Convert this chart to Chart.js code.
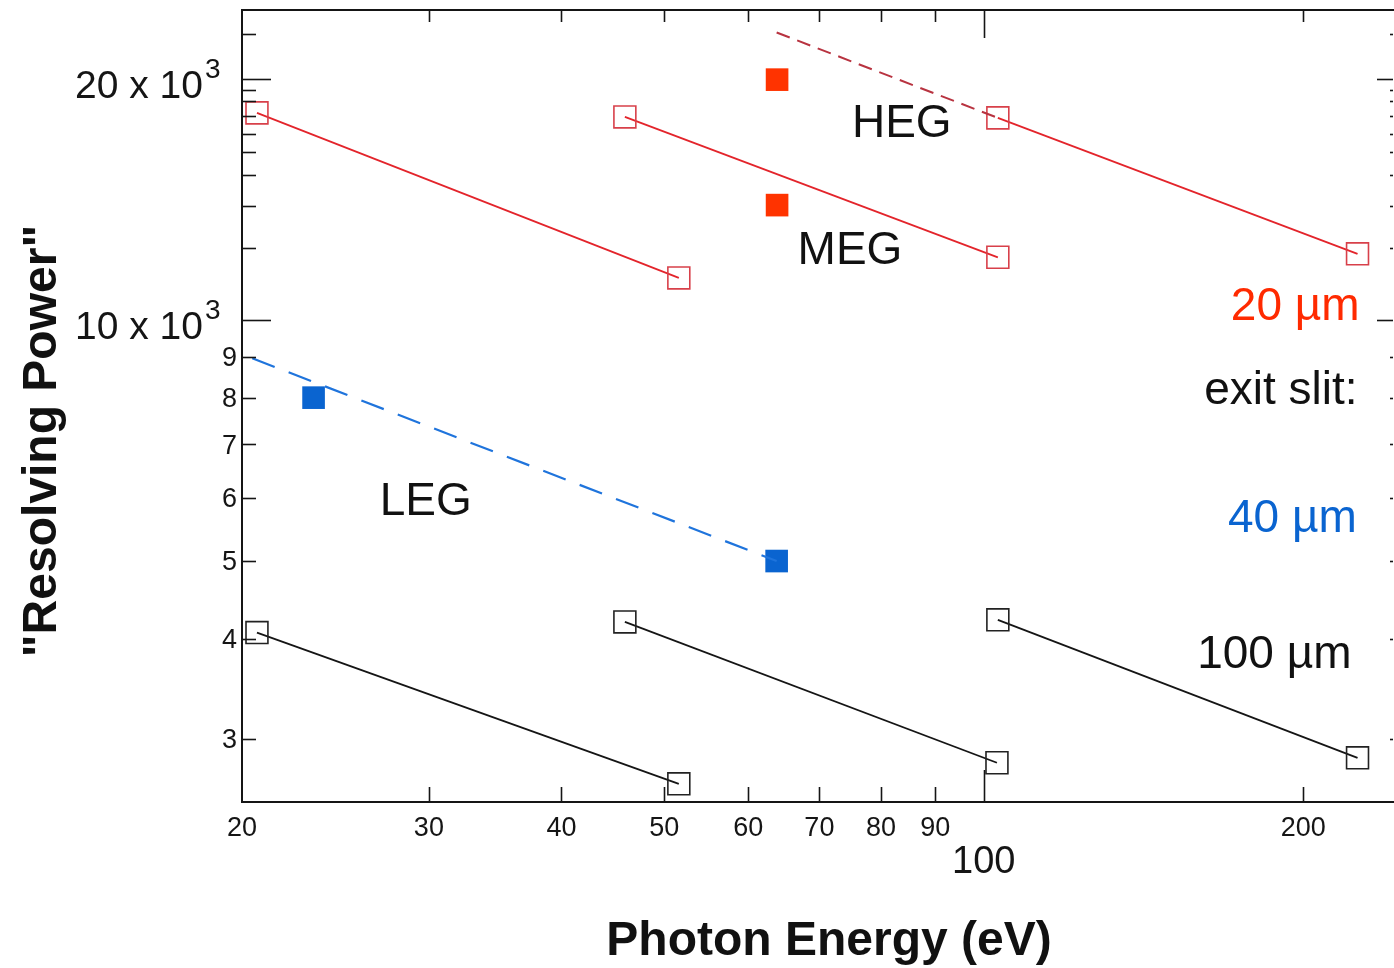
<!DOCTYPE html>
<html><head><meta charset="utf-8">
<script src="https://cdn.jsdelivr.net/npm/chart.js@4.4.0/dist/chart.umd.min.js"></script>
<style>html,body{margin:0;padding:0;background:#fff;}canvas{display:block;}</style>
</head><body>
<canvas id="c" width="1394" height="968"></canvas>
<script>
// ---- data (photon energy in eV, resolving power) ----
const energyLeg20 = [20.66, 51.6];
const powerLeg20 = [18150, 11290];
const energyMeg20 = [45.9, 103.1];
const powerMeg20 = [17940, 11980];
const energyHeg20 = [103.1, 225.0];
const powerHeg20 = [17890, 12100];
const energyHegDash = [63.8, 103.1];
const powerHegDash = [22870, 17890];
const energyLeg40Dash = [20.45, 63.8];
const powerLeg40Dash = [8960, 5000];
const energyMeasured20 = [63.86, 63.86];
const powerMeasured20 = [19970, 13920];
const energyMeasured40 = [23.36, 63.8];
const powerMeasured40 = [8000, 5000];
const energyLeg100 = [20.66, 51.6];
const powerLeg100 = [4070, 2634];
const energyMeg100 = [45.9, 102.9];
const powerMeg100 = [4197, 2799];
const energyHeg100 = [103.1, 225.0];
const powerHeg100 = [4222, 2839];

// ---- ticks ----
const xTickValues = [20, 30, 40, 50, 60, 70, 80, 90, 100, 200];
const xTickLabels = ['20', '30', '40', '50', '60', '70', '80', '90', '100', '200'];
const yTickValues = [3000, 4000, 5000, 6000, 7000, 8000, 9000, 10000, 20000];
const yTickLabels = ['3', '4', '5', '6', '7', '8', '9', '10 x 10', '20 x 10'];
const yTickExponents = ['', '', '', '', '', '', '', '3', '3'];
const yMinorTickValues = [12300, 13900, 15200, 16200, 17100, 18000, 18800, 19400, 22800];

// ---- annotation texts ----
const annotationTexts = ['HEG', 'MEG', 'LEG', '20 µm', 'exit slit:', '40 µm', '100 µm'];
const xTitle = 'Photon Energy (eV)';
const yTitle = '"Resolving Power"';

const FONT = '"Liberation Sans", Arial, Helvetica, sans-serif';
const pts = (xs, ys) => xs.map((x, i) => ({x: x, y: ys[i]}));

const RED_LINE = '#e3242b', RED_MARK = '#d8404a', RED_FILL = '#ff3300';
const BLUE = '#1f74dc', BLUE_FILL = '#0a64d0', BLACK = '#151515';

function lineSet(data, color, markColor) {
  return {data: data, showLine: true, borderColor: color, borderWidth: 1.8,
    pointStyle: 'rect', pointRadius: 15.5, pointBorderColor: markColor,
    pointBackgroundColor: 'rgba(0,0,0,0)', pointBorderWidth: 1.6, clip: false};
}

const datasets = [
  {data: pts(energyHegDash, powerHegDash), showLine: true, borderColor: '#b83340', borderWidth: 2,
   borderDash: [14, 8], pointRadius: 0, clip: false},
  {data: pts(energyLeg40Dash, powerLeg40Dash), showLine: true, borderColor: BLUE, borderWidth: 2.2,
   borderDash: [24, 15], pointRadius: 0, clip: false},
  lineSet(pts(energyLeg20, powerLeg20), RED_LINE, RED_MARK),
  lineSet(pts(energyMeg20, powerMeg20), RED_LINE, RED_MARK),
  lineSet(pts(energyHeg20, powerHeg20), RED_LINE, RED_MARK),
  lineSet(pts(energyLeg100, powerLeg100), BLACK, '#222'),
  lineSet(pts(energyMeg100, powerMeg100), BLACK, '#222'),
  lineSet(pts(energyHeg100, powerHeg100), BLACK, '#222'),
  {data: pts(energyMeasured20, powerMeasured20), showLine: false, pointStyle: 'rect', pointRadius: 16,
   pointBackgroundColor: RED_FILL, pointBorderWidth: 0, pointBorderColor: RED_FILL, clip: false},
  {data: pts(energyMeasured40, powerMeasured40), showLine: false, pointStyle: 'rect', pointRadius: 16,
   pointBackgroundColor: BLUE_FILL, pointBorderWidth: 0, pointBorderColor: BLUE_FILL, clip: false}
];

// annotation anchors in data coordinates (energy, resolving power)
const annotationLayout = [
  {x: 83.7, y: 16920, align: 'center', color: '#111', size: 46},
  {x: 74.8, y: 11750, align: 'center', color: '#111', size: 46},
  {x: 29.8, y: 5710, align: 'center', color: '#111', size: 46},
  {x: 226.0, y: 10000, align: 'right', color: '#ff2a00', size: 46},
  {x: 225.0, y: 7855, align: 'right', color: '#111', size: 46},
  {x: 224.6, y: 5436, align: 'right', color: '#0a64d0', size: 46},
  {x: 222.1, y: 3677, align: 'right', color: '#111', size: 46}
];

const decor = {
  id: 'decor',
  afterDraw(chart) {
    const ctx = chart.ctx, a = chart.chartArea, xs = chart.scales.x, ys = chart.scales.y;
    ctx.save();
    ctx.strokeStyle = '#151515';
    ctx.fillStyle = '#151515';
    // top frame
    ctx.lineWidth = 2;
    ctx.beginPath(); ctx.moveTo(a.left - 1, a.top); ctx.lineTo(a.right + 2, a.top); ctx.stroke();
    ctx.lineWidth = 1.6;
    const seg = (x1, y1, x2, y2) => { ctx.beginPath(); ctx.moveTo(x1, y1); ctx.lineTo(x2, y2); ctx.stroke(); };
    // x ticks, inward on bottom and top
    xTickValues.forEach(v => {
      if (v === xs.min) return;
      const px = Math.round(xs.getPixelForValue(v)) + 0.5;
      const big = v === 100;
      seg(px, a.bottom, px, a.bottom - (big ? 32 : 15));
      seg(px, a.top, px, a.top + (big ? 28 : 12));
    });
    // y ticks, inward on left and right
    yTickValues.forEach(v => {
      const py = Math.round(ys.getPixelForValue(v)) + 0.5;
      const big = v >= 10000;
      seg(a.left, py, a.left + (big ? 29 : 14), py);
      seg(a.right, py, a.right - (big ? 16 : 3), py);
    });
    yMinorTickValues.forEach(v => {
      const py = Math.round(ys.getPixelForValue(v)) + 0.5;
      seg(a.left, py, a.left + 14, py);
      seg(a.right, py, a.right - 3, py);
    });
    // x tick labels
    ctx.textAlign = 'center';
    ctx.textBaseline = 'alphabetic';
    xTickValues.forEach((v, i) => {
      const px = xs.getPixelForValue(v);
      if (v === 100) { ctx.font = '38px ' + FONT; ctx.fillText(xTickLabels[i], px, a.bottom + 71); }
      else { ctx.font = '27px ' + FONT; ctx.fillText(xTickLabels[i], px, a.bottom + 34); }
    });
    // y tick labels
    yTickValues.forEach((v, i) => {
      const py = ys.getPixelForValue(v);
      if (yTickExponents[i]) {
        ctx.textAlign = 'right';
        ctx.font = '39px ' + FONT;
        ctx.fillText(yTickLabels[i], 203, py + 19);
        ctx.textAlign = 'left';
        ctx.font = '28px ' + FONT;
        ctx.fillText(yTickExponents[i], 205, py - 1);
      } else {
        ctx.textAlign = 'right';
        ctx.textBaseline = 'middle';
        ctx.font = '27px ' + FONT;
        ctx.fillText(yTickLabels[i], 237, py + 2);
        ctx.textBaseline = 'alphabetic';
      }
    });
    // annotations
    annotationLayout.forEach((s, i) => {
      ctx.font = s.size + 'px ' + FONT;
      ctx.fillStyle = s.color;
      ctx.textAlign = s.align;
      ctx.fillText(annotationTexts[i], xs.getPixelForValue(s.x), ys.getPixelForValue(s.y));
    });
    // axis titles
    ctx.fillStyle = '#111';
    ctx.font = 'bold 48px ' + FONT;
    ctx.textAlign = 'center';
    ctx.fillText(xTitle, 829, 955);
    ctx.translate(56, 441);
    ctx.rotate(-Math.PI / 2);
    ctx.fillText(yTitle, 0, 0);
    ctx.restore();
  }
};

new Chart(document.getElementById('c'), {
  type: 'scatter',
  data: {datasets: datasets},
  options: {
    responsive: false, animation: false, devicePixelRatio: 1,
    layout: {autoPadding: false, padding: {left: 242, right: 1, top: 10, bottom: 166}},
    plugins: {legend: {display: false}, tooltip: {enabled: false}},
    scales: {
      x: {type: 'logarithmic', min: 20, max: 243, bounds: 'data', position: 'bottom',
          grid: {display: false, drawTicks: false}, border: {display: true, color: '#151515', width: 2},
          ticks: {display: false}},
      y: {type: 'logarithmic', min: 2500, max: 24400, bounds: 'data', position: 'left',
          grid: {display: false, drawTicks: false}, border: {display: true, color: '#151515', width: 2},
          ticks: {display: false}}
    }
  },
  plugins: [decor]
});
</script>
</body></html>
